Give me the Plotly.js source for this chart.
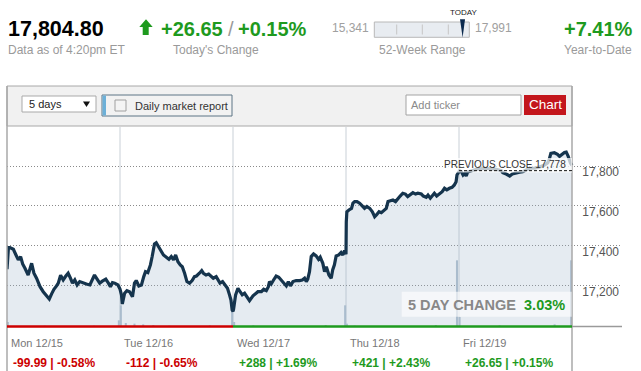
<!DOCTYPE html>
<html><head><meta charset="utf-8">
<script src="https://cdn.plot.ly/plotly-3.0.1.min.js"></script>
<style>html,body{margin:0;padding:0;background:#fff;overflow:hidden}#chart{width:641px;height:371px}</style>
</head><body><div id="chart"></div>
<script>
// ---------- data ----------
const dayLabels = ['Mon 12/15','Tue 12/16','Wed 12/17','Thu 12/18','Fri 12/19'];
const dayChgPts = [-99.99, -112, 288, 421, 26.65];
const dayChgPct = [-0.58, -0.65, 1.69, 2.43, 0.15];

// minutes after the 9:30 open, and index level
const monT = [0,5,10,22,31,39,47,54,62,73,85,93,102,114,125,137,146,154,162,171,177,185,194,203,211,219,226,234,242,251,263,274,286,295,302,311,320,329,341,350,357,364,372,383,390];
const monV = [17281,17390,17390,17382,17353,17328,17345,17308,17286,17252,17311,17261,17236,17193,17168,17143,17131,17157,17180,17197,17211,17251,17227,17247,17261,17236,17211,17227,17202,17219,17211,17207,17202,17236,17252,17231,17211,17221,17231,17211,17193,17214,17211,17202,17181];
const tueT = [5,8,16,24,33,43,50,56,65,74,82,88,96,105,111,119,125,134,142,150,160,169,177,185,192,200,208,215,223,231,240,249,257,264,274,282,288,297,306,314,322,332,339,345,354,364,371,378,383,387,390];
const tueV = [17152,17106,17160,17173,17168,17143,17211,17224,17197,17202,17244,17269,17264,17303,17345,17409,17415,17395,17370,17353,17342,17331,17345,17328,17353,17319,17303,17294,17261,17219,17211,17224,17244,17247,17261,17274,17261,17252,17257,17244,17236,17244,17227,17211,17219,17202,17185,17152,17126,17076,17069];
const wedT = [2,9,17,25,32,40,48,57,69,78,86,98,106,115,122,126,132,140,149,158,167,175,184,191,198,207,218,230,239,247,253,258,264,270,278,287,295,301,310,316,322,331,339,344,350,356,365,373,379,385,390];
const wedV = [17080,17152,17185,17168,17152,17160,17140,17123,17147,17160,17168,17168,17180,17173,17193,17219,17207,17227,17247,17241,17227,17211,17197,17219,17197,17219,17224,17224,17227,17236,17219,17231,17269,17345,17358,17348,17331,17342,17311,17269,17294,17252,17236,17278,17303,17348,17353,17365,17353,17375,17357];
const thuT = [1,3,10,19,24,30,38,47,56,64,72,82,91,99,105,114,122,130,139,145,153,162,171,179,187,196,205,213,222,231,240,248,260,267,277,283,291,297,305,313,323,332,340,348,357,366,374,380,383,390];
const thuV = [17520,17571,17580,17588,17614,17622,17622,17614,17600,17588,17597,17588,17571,17546,17555,17571,17566,17576,17588,17622,17627,17630,17622,17639,17650,17664,17660,17647,17655,17667,17660,17664,17660,17650,17644,17655,17639,17650,17664,17650,17664,17672,17689,17681,17689,17694,17706,17722,17756,17778];
const friT = [2,8,14,20,25,30,45,60,80,94,110,129,146,151,163,175,184,192,200,209,220,232,243,261,278,295,306,311,317,329,340,347,355,364,370,377,385,390];
const friV = [17778,17773,17756,17765,17751,17771,17780,17785,17788,17790,17787,17785,17778,17768,17761,17751,17761,17765,17768,17770,17773,17781,17790,17791,17796,17806,17817,17832,17865,17868,17860,17850,17860,17870,17872,17850,17815,17805];

// volume (minutes since Monday open, millions of shares)
const volMin = [3,130,300,386,393,410,440,470,505,560,700,777,784,850,1100,1167,1173,1200,1480,1553,1562,1700,1890,1947];
const volVal = [1.5,0.4,0.4,2.0,6.5,1.2,1.0,0.8,0.6,0.4,0.5,4.5,1.5,0.5,0.6,6.5,1.0,0.4,0.6,20,3,0.5,0.8,20];

const yTicks = [17200,17400,17600,17800];

const lastPrice = 17804.80, todayChg = 26.65, todayPct = 0.15;
const low52 = 15341, high52 = 17991, ytdPct = 7.41;
const prevClose = 17778, fiveDayPct = 3.03;
const dataTime = '4:20pm ET';

// ---------- build ----------
const DAY = 390;
const dayT = [monT,tueT,wedT,thuT,friT], dayV = [monV,tueV,wedV,thuV,friV];
const xs = [], ys = [];
dayT.forEach((ts,d)=>ts.forEach((t,i)=>{xs.push(d*DAY+t); ys.push(dayV[d][i]);}));

const RED = '#cc0000', GREEN = '#1e9a1e', GRAY = '#9a9a9a';
const FONT = 'Liberation Sans, Arial, Helvetica, sans-serif';
const W=641,H=371,L=7,R=19,T=127,B=44,PW=W-L-R,PH=H-T-B;
const px = x=>(x-L)/PW, py = y=>1-(y-T)/PH;
const xMax = 5*DAY*PW/565;
const yRange = [16990, 17998];

const nf = v=>v.toLocaleString('en-US',{minimumFractionDigits:2,maximumFractionDigits:2});
const sgn = v=>v>=0?'+':'-';
const fmtPts = v=>sgn(v)+(Math.abs(v)>=100?Math.round(Math.abs(v)).toString():Math.abs(v).toFixed(2));
const fmtPct = v=>sgn(v)+Math.abs(v).toFixed(2)+'%';

const shapes = [];
function rect(x0,y0,x1,y1,fill,line,lw,layer){shapes.push({type:'rect',xref:'paper',yref:'paper',x0:px(x0),x1:px(x1),y0:py(y0),y1:py(y1),fillcolor:fill,line:{color:line||'rgba(0,0,0,0)',width:line?(lw||1):0},layer:layer||'above'});}
function seg(x0,y0,x1,y1,color,w,layer,dash){shapes.push({type:'line',xref:'paper',yref:'paper',x0:px(x0),x1:px(x1),y0:py(y0),y1:py(y1),line:{color:color,width:w||1,dash:dash||'solid'},layer:layer||'above'});}
function path(pts,fill){shapes.push({type:'path',xref:'paper',yref:'paper',path:'M'+pts.map(p=>px(p[0])+','+py(p[1])).join(' L')+' Z',fillcolor:fill,line:{width:0},layer:'above'});}

// toolbar
rect(7,86,572,126,'#f1f1f1','#a8a8a8',1);
rect(22,96,96,112,'#ffffff','#a9a9a9',1);
path([[83,101.5],[90,101.5],[86.5,107]],'#111');
rect(102,95,232,116,'#f2f2f2','#5d7485',1);
rect(102.5,95.5,106,115.5,'#6cb0d8');
rect(115,100,126,111,'#f4f4f4','#a0a0a0',1);
rect(406,95,521,115,'#ffffff','#a3a3a3',1);
rect(524,95,566,115,'#c3161c');
// borders
seg(7,86,7,371,'#a8a8a8',1.5);
seg(572,86,572,371,'#a8a8a8',1.5);
// day separators
for(let d=1;d<5;d++) shapes.push({type:'line',xref:'x',yref:'paper',x0:d*DAY,x1:d*DAY,y0:0,y1:1,line:{color:'#c9d0d7',width:1},layer:'below'});
// coloured baseline per day
for(let d=0;d<5;d++) shapes.push({type:'line',xref:'x',yref:'paper',x0:d*DAY,x1:(d+1)*DAY,y0:py(326.5),y1:py(326.5),line:{color:dayChgPts[d]<0?RED:GREEN,width:2.5},layer:'above'});
shapes.push({type:'line',xref:'x',yref:'paper',x0:5*DAY,x1:xMax,y0:py(326.5),y1:py(326.5),line:{color:GRAY,width:1.5},layer:'above'});
// previous close label backdrop + dashed line
rect(443,158,572,172.5,'rgba(255,255,255,0.72)');
shapes.push({type:'line',xref:'x',yref:'y',x0:4*DAY,x1:5*DAY,y0:prevClose,y1:prevClose,line:{color:'#111',width:1,dash:'3px,2px'},layer:'above'});
// 5 day change box
rect(401.7,291.7,571.7,316.7,'rgba(255,255,255,0.62)');
// header: arrow
path([[139.3,27],[146,19.3],[152.7,27],[148.7,27],[148.7,35],[142.7,35],[142.7,27]],GREEN);
// 52-week range bar
rect(374.3,22,469.3,37.3,'#e8ecf1','#b8b8b8',1);
[396.7,422.3,448.3].forEach(x=>seg(x,24.5,x,34.5,'#c6c6c6',1));
const needleX = 374.3 + (lastPrice-low52)/(high52-low52)*(469.3-374.3);
path([[needleX-2.6,19.3],[needleX+2.4,19.3],[needleX,37.5]],'#0b2a4e');

const ann = [];
function txt(x,y,text,size,color,anchor,weight){ann.push({xref:'paper',yref:'paper',x:px(x),y:py(y),text:text,showarrow:false,xanchor:anchor||'left',yanchor:'middle',borderpad:0,font:{family:FONT,size:size,color:color,weight:weight||'normal'}});}

txt(7,28.5,nf(lastPrice),21.5,'#000','left','bold');
txt(7,50,'Data as of '+dataTime,12,'#9a9a9a');
txt(160,28.5,sgn(todayChg)+todayChg.toFixed(2),20,GREEN,'left','bold');
txt(226.5,28.5,'/',20,'#9a9a9a');
txt(237,28.5,fmtPct(todayPct),20,GREEN,'left','bold');
txt(216,50,"Today's Change",12,'#9a9a9a','center');
txt(370,28.3,low52.toLocaleString('en-US'),12,'#a0a0a0','right');
txt(473.5,28.3,high52.toLocaleString('en-US'),12,'#a0a0a0','left');
txt(needleX+0.8,12,'TODAY',8,'#222','center');
txt(422,50,'52-Week Range',12,'#9a9a9a','center');
txt(633.5,28.5,fmtPct(ytdPct),20,GREEN,'right','bold');
txt(633,50,'Year-to-Date',12,'#9a9a9a','right');
// toolbar texts
txt(28,104,'5 days',11,'#222');
txt(134,105.5,'Daily market report',11,'#333');
txt(410,105,'Add ticker',11,'#8a8a8a');
txt(545,104.5,'Chart',13.5,'#ffffff','center');
// chart labels
txt(566.5,164,'PREVIOUS CLOSE '+prevClose.toLocaleString('en-US'),10,'#333','right');
txt(486.7,304.5,'5 DAY CHANGE&nbsp;&nbsp;<span style="color:'+GREEN+'">'+fiveDayPct.toFixed(2)+'%</span>',14.5,'#888','center','bold');
// daily changes under the date labels
dayChgPts.forEach((v,d)=>{
  ann.push({xref:'x',yref:'paper',x:d*DAY,xshift:5,y:py(362.5),xanchor:'left',yanchor:'middle',showarrow:false,borderpad:0,
    text:fmtPts(v)+' | '+fmtPct(dayChgPct[d]),font:{family:FONT,size:12,color:v<0?RED:GREEN,weight:'bold'}});
});

const traces = [
  {x:xs,y:ys,type:'scatter',mode:'lines',line:{width:0,color:'rgba(0,0,0,0)'},fill:'tozeroy',fillcolor:'rgba(160,182,205,0.27)',hoverinfo:'skip',yaxis:'y'},
  {x:volMin,y:volVal,type:'bar',width:7,marker:{color:'#aabccd',line:{width:0}},yaxis:'y2',hoverinfo:'skip'},
  {x:xs,y:ys,type:'scatter',mode:'lines',line:{color:'#15344d',width:3.2},yaxis:'y3',hoverinfo:'skip'}
];

const layout = {
  width:W,height:H,margin:{l:L,r:R,t:T,b:B,pad:0},
  paper_bgcolor:'#fff',plot_bgcolor:'#fff',showlegend:false,
  font:{family:FONT},
  xaxis:{range:[0,xMax],tickvals:dayLabels.map((_,d)=>d*DAY),ticktext:dayLabels,ticklabelposition:'outside right',ticklabelshift:4,
    tickfont:{size:11,color:'#777'},showgrid:false,zeroline:false,showline:false,ticks:'',ticklabelstandoff:8,automargin:false},
  yaxis:{range:yRange,side:'right',tickvals:yTicks,tickformat:',d',ticklabelposition:'inside',ticklabelshift:6,ticklabelstandoff:0,
    tickfont:{size:12,color:'#555'},showgrid:true,gridcolor:'#8a8a8a',griddash:'1px,2px',gridwidth:1,zeroline:false,showline:false,ticks:'',automargin:false},
  yaxis2:{overlaying:'y',range:[0,60],visible:false},
  yaxis3:{overlaying:'y',range:yRange,visible:false},
  shapes:shapes,annotations:ann
};
Plotly.newPlot('chart',traces,layout,{staticPlot:true,displayModeBar:false});
</script></body></html>
